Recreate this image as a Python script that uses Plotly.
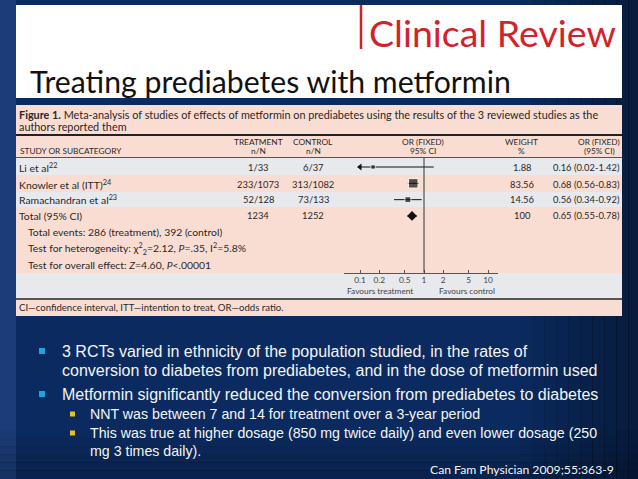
import plotly.graph_objects as go

# ---------------- data ----------------
studies = ["Li et al<sup>22</sup>", "Knowler et al (ITT)<sup>24</sup>", "Ramachandran et al<sup>23</sup>"]
treat_events = [1, 233, 52]
treat_n = [33, 1073, 128]
ctrl_events = [6, 313, 73]
ctrl_n = [37, 1082, 133]
weights = [1.88, 83.56, 14.56]
or_est = [0.16, 0.68, 0.56]
or_lo = [0.02, 0.56, 0.34]
or_hi = [1.42, 0.83, 0.92]
total_label = "Total (95% CI)"
total_treat_n = 1234
total_ctrl_n = 1252
total_weight = 100
total_or = 0.65
total_lo = 0.55
total_hi = 0.78
het_chi2 = 2.12
het_df = 2
het_p = ".35"
het_i2 = 5.8
overall_z = 4.60
overall_p = ".00001"
tick_vals = [0.1, 0.2, 0.5, 1, 2, 5, 10]
tick_labels = ["0.1", "0.2", "0.5", "1", "2", "5", "10"]
axis_min_shown = 0.1

bullets = [
    ["3 RCTs varied in ethnicity of the population studied, in the rates of",
     "conversion to diabetes from prediabetes, and in the dose of metformin used"],
    ["Metformin significantly reduced the conversion from prediabetes to diabetes"],
]
sub_bullets = [
    ["NNT was between 7 and 14 for treatment over a 3-year period"],
    ["This was true at higher dosage (850 mg twice daily) and even lower dosage (250",
     "mg 3 times daily)."],
]
citation = "Can Fam Physician 2009;55:363-9"

# ---------------- layout helpers ----------------
W, H = 638, 479
PINK = "#f9ddd3"
GRAY = "#e7e9ec"
TXT = "#2b2727"
FIGFONT = "Lato"

shapes = []
annotations = []


def fx(x):
    return x / W


def fy(y):
    return 1 - y / H


def rect(x0, y0, x1, y1, color, opacity=1.0):
    shapes.append(dict(type="rect", xref="paper", yref="paper",
                       x0=fx(x0), x1=fx(x1), y0=fy(y1), y1=fy(y0),
                       fillcolor=color, opacity=opacity, line_width=0, layer="below"))


def hline(x0, x1, y, color, width):
    shapes.append(dict(type="line", xref="paper", yref="paper",
                       x0=fx(x0), x1=fx(x1), y0=fy(y), y1=fy(y),
                       line=dict(color=color, width=width), layer="below"))


def text(x, y, s, size, color=TXT, anchor="left", family=FIGFONT):
    annotations.append(dict(x=fx(x), y=fy(y), xref="paper", yref="paper", text=s,
                            showarrow=False, xanchor=anchor, yanchor="middle",
                            borderpad=0, font=dict(size=size, color=color, family=family)))


# ---------------- background (slide gradient) ----------------
rect(0, 0, 16, H, "#1b3c78")
for i in range(10):
    rect(520 + i * 12, 0, 532 + i * 12 + 1, H, "#000000", 0.035 * (i + 1))
for i in range(6):
    rect(0, 430 + i * 8, W, 438 + i * 8 + 1, "#000000", 0.03 * (i + 1))

# header white box
rect(16, 5, 622, 98, "#ffffff")
shapes.append(dict(type="line", xref="paper", yref="paper", x0=fx(361), x1=fx(361),
                   y0=fy(5), y1=fy(49), line=dict(color="#d2232a", width=2.5)))
text(368, 32, "Clinical Review", 37.5, "#d2232a", family="Lato")
text(29, 81, "Treating prediabetes with metformin", 30.2, "#111111", family="Lato")

# figure panel bands
rect(16, 105, 622, 134, PINK)
rect(16, 134, 622, 136, "#222222")
rect(16, 136, 622, 157, PINK)
hline(16, 622, 157.5, "#555555", 1)
rect(16, 158, 622, 175, GRAY)
rect(16, 175, 622, 192, PINK)
rect(16, 192, 622, 207, GRAY)
rect(16, 207, 622, 273, PINK)
rect(16, 273, 622, 298, GRAY)
rect(16, 298, 622, 300, "#555555")
rect(16, 300, 622, 316, PINK)

# caption
text(18, 115, "<b>Figure 1.</b> Meta-analysis of studies of effects of metformin on prediabetes "
     "using the results of the 3 reviewed studies as the", 10.85)
text(18, 126, "authors reported them", 10.85)

# header
HS = 8.3
text(19, 151, "STUDY OR SUBCATEGORY", HS)
text(258, 142, "TREATMENT", HS, anchor="center")
text(258, 151, "n/N", HS, anchor="center")
text(313, 142, "CONTROL", HS, anchor="center")
text(313, 151, "n/N", HS, anchor="center")
text(423, 142, "OR (FIXED)", HS, anchor="center")
text(423, 151, "95% CI", HS, anchor="center")
text(521, 142, "WEIGHT", HS, anchor="center")
text(521, 151, "%", HS, anchor="center")
text(599, 142, "OR (FIXED)", HS, anchor="center")
text(599, 151, "(95% CI)", HS, anchor="center")

# rows
row_y = [167, 184, 199.5]
LS = 10.4   # label size
NS = 9.4    # number size
for i in range(len(studies)):
    y = row_y[i]
    text(18, y, studies[i], LS)
    text(258, y, f"{treat_events[i]}/{treat_n[i]}", NS, anchor="center")
    text(313, y, f"{ctrl_events[i]}/{ctrl_n[i]}", NS, anchor="center")
    text(522, y, f"{weights[i]:.2f}", NS, anchor="center")
    text(552, y, f"{or_est[i]:.2f} ({or_lo[i]:.2f}-{or_hi[i]:.2f})", NS)

yt = 216
text(18, yt, total_label, LS)
text(258, yt, f"{total_treat_n}", NS, anchor="center")
text(313, yt, f"{total_ctrl_n}", NS, anchor="center")
text(522, yt, f"{total_weight}", NS, anchor="center")
text(552, yt, f"{total_or:.2f} ({total_lo:.2f}-{total_hi:.2f})", NS)
text(27, 232, f"Total events: {sum(treat_events)} (treatment), {sum(ctrl_events)} (control)", LS)
text(27, 249, f"Test for heterogeneity: χ<sup>2</sup><sub>{het_df}</sub>={het_chi2:.2f}, "
     f"<i>P</i>={het_p}, I<sup>2</sup>={het_i2}%", LS)
text(27, 265, f"Test for overall effect: <i>Z</i>={overall_z:.2f}, <i>P</i>&lt;{overall_p}", LS)

text(380, 291, "Favours treatment", 8.3, "#444444", anchor="center")
text(467, 291, "Favours control", 8.3, "#444444", anchor="center")

text(18, 307, "CI—confidence interval, ITT—intention to treat, OR—odds ratio.", 9.6)

# slide bullets
MAINF = "Liberation Sans"
by = [[351, 370], [394]]
for lines, ys in zip(bullets, by):
    rect(39, ys[0] - 3, 45, ys[0] + 3, "#1aa6df")
    for s, y in zip(lines, ys):
        text(61, y, s, 16, "#f4f4f4", family=MAINF)
sy = [[414], [433, 451]]
for lines, ys in zip(sub_bullets, sy):
    rect(70, ys[0] - 2.5, 75, ys[0] + 2.5, "#e5c12a")
    for s, y in zip(lines, ys):
        text(89, y, s, 14.2, "#f4f4f4", family=MAINF)
text(615, 469, citation, 12.2, "#f4f4f4", anchor="right", family="Liberation Sans Narrow, Lato")

# ---------------- forest plot ----------------
idx = list(range(len(studies)))
total_idx = len(studies)

fig = go.Figure()

# CI lines
cx, cy = [], []
for i in idx:
    cx += [max(or_lo[i], axis_min_shown), or_hi[i], None]
    cy += [i, i, None]
cx += [total_lo, total_hi, None]
cy += [total_idx, total_idx, None]
fig.add_trace(go.Scatter(x=cx, y=cy, mode="lines", line=dict(color="#111111", width=1),
                         hoverinfo="skip", showlegend=False))

# arrows for truncated CIs
ax = [axis_min_shown for i in idx if or_lo[i] < axis_min_shown]
ay = [i for i in idx if or_lo[i] < axis_min_shown]
fig.add_trace(go.Scatter(x=ax, y=ay, mode="markers",
                         marker=dict(symbol="triangle-left", size=6, color="#111111"),
                         showlegend=False, hoverinfo="skip"))

# study squares
fig.add_trace(go.Scatter(x=or_est, y=idx, mode="markers",
                         marker=dict(symbol="square", color="#111111",
                                     size=[3.5 + 0.65 * w ** 0.5 for w in weights]),
                         showlegend=False))
# total diamond
fig.add_trace(go.Scatter(x=[total_or], y=[total_idx], mode="markers",
                         marker=dict(symbol="diamond", color="#111111", size=7.5),
                         showlegend=False))

row_px = 16.33
y_top_px, y_bot_px = 158, 272.5
y_first = 167
fig.update_layout(
    width=W, height=H, margin=dict(l=0, r=0, t=0, b=0),
    paper_bgcolor="#0b2b60", plot_bgcolor="rgba(0,0,0,0)",
    shapes=shapes, annotations=annotations,
    xaxis=dict(type="log", range=[-1.25, 1.156], domain=[fx(344), fx(498)],
               showline=True, linecolor="#555555", linewidth=1,
               ticks="inside", ticklen=3, tickcolor="#555555",
               tickvals=tick_vals, ticktext=tick_labels,
               tickfont=dict(size=8.3, color="#444444", family=FIGFONT),
               showgrid=False, zeroline=False, fixedrange=True),
    yaxis=dict(range=[(y_bot_px - y_first) / row_px, (y_top_px - y_first) / row_px],
               domain=[fy(y_bot_px), fy(y_top_px)], visible=False, fixedrange=True),
    showlegend=False,
)
# line of no effect
fig.add_shape(type="line", xref="x", yref="paper", x0=1, x1=1,
              y0=fy(y_bot_px), y1=fy(y_top_px), line=dict(color="#333333", width=1))

fig.write_html("out.html", config={"displayModeBar": False},
               post_script="document.body.style.margin='0';document.body.style.overflow='hidden';")
